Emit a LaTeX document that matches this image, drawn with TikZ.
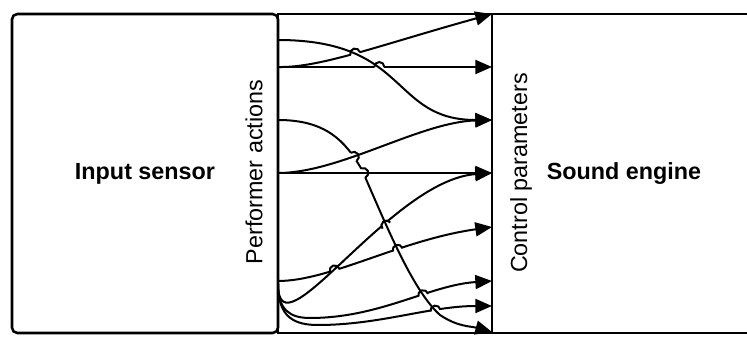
\documentclass[tikz,border=0pt]{standalone}
\usepackage{fontspec}
\setmainfont{Liberation Sans}
\usetikzlibrary{arrows.meta, positioning, intersections}
\tikzset{
  block/.style={rectangle, draw=black, line width=1.9pt, inner sep=0pt,
    minimum height=239.25pt, font=\bfseries\fontsize{17.5}{20}\selectfont},
  axislabel/.style={inner sep=0pt, rotate=90, font=\fontsize{17.5}{20}\selectfont},
  flow/.style={-{Triangle[length=12.5pt, width=10.5pt]}, line width=1.5pt, black},
  wire/.style={line width=1.5pt, black},
}
% small bridge where one connector jumps another
\newcommand{\hopover}[2]{\draw[wire] (#1) ++(#2:5) arc[start angle=#2, delta angle=180, radius=5];}

% connector routes (pixel grid, y downwards)
\def\pathA{(act1) .. controls (410,40) and (390,120) .. (par3)}
\def\pathB{(act2) .. controls (320,68) and (380,45) .. (par1)}
\def\pathC{(act2) -- (par2)}
\def\pathD{(act3) .. controls (325,120) and (345,140) .. (362,170) .. controls (385,222) and (412,290) .. (440,315) .. controls (458,327) and (470,326) .. (par8)}
\def\pathE{(act4) .. controls (340,173) and (420,122) .. (par3)}
\def\pathF{(act4) -- (par4)}
\def\pathG{(act6) .. controls (278,360) and (390,180) .. (par4)}
\def\pathH{(act5) .. controls (330,281) and (400,240) .. (par5)}
\def\pathI{(act6) .. controls (278,310) and (290,318) .. (310,318) .. controls (380,318) and (430,285) .. (par6)}
\def\pathJ{(act6) .. controls (278,318) and (295,325) .. (318,325) .. controls (380,325) and (430,306) .. (par7)}

\begin{document}
\begin{tikzpicture}[x=0.75pt, y=-0.75pt]
  \path[use as bounding box, fill=white] (0,0) rectangle (747,338);
  \clip (0,0) rectangle (747,338);

  \node[block, rounded corners=4pt, minimum width=199.5pt] (sensor) at (145,173.5) {Input sensor};
  \node[block, minimum width=160.5pt] (mapping) at (385,173.5) {};
  \node[block, minimum width=198pt] (engine) at (624,173.5) {Sound engine};
  \node[axislabel] (actions) at (254,172) {Performer actions};
  \node[axislabel] (params) at (521,173) {Control parameters};

  \foreach \n/\y in {1/40, 2/67, 3/120, 4/173, 5/281, 6/284}
    \coordinate (act\n) at (278,\y);
  \foreach \n/\y in {1/14, 2/67, 3/120, 4/173, 5/227, 6/281, 7/306, 8/332}
    \coordinate (par\n) at (492,\y);

  % crossings
  \path[name path=pA] \pathA;
  \path[name path=pB] \pathB;
  \path[name path=pC] \pathC;
  \path[name path=pD] \pathD;
  \path[name path=pE] \pathE;
  \path[name path=pF] \pathF;
  \path[name path=pG] \pathG;
  \path[name path=pH] \pathH;
  \path[name path=pI] \pathI;
  \path[name path=pJ] \pathJ;
  \path[name intersections={of=pB and pA, by=hBA}];
  \path[name intersections={of=pC and pA, by=hCA}];
  \path[name intersections={of=pD and pE, by=hDE}];
  \path[name intersections={of=pD and pF, by=hDF}];
  \path[name intersections={of=pG and pD, by=hGD}];
  \path[name intersections={of=pH and pG, by=hHG}];
  \path[name intersections={of=pH and pD, by=hHD}];
  \path[name intersections={of=pI and pD, by=hID}];
  \path[name intersections={of=pJ and pD, by=hJD}];

  % connectors that are crossed
  \draw[flow] \pathA;
  \draw[flow] \pathE;
  \draw[flow] \pathF;

  % connectors that jump
  \begin{scope}[even odd rule]
    \clip (0,0) rectangle (747,338) (hBA) circle[radius=5];
    \draw[flow] \pathB;
  \end{scope}
  \begin{scope}[even odd rule]
    \clip (0,0) rectangle (747,338) (hCA) circle[radius=5];
    \draw[flow] \pathC;
  \end{scope}
  \begin{scope}[even odd rule]
    \clip (0,0) rectangle (747,338) (hDE) circle[radius=5] (hDF) circle[radius=5];
    \draw[flow] \pathD;
  \end{scope}
  \begin{scope}[even odd rule]
    \clip (0,0) rectangle (747,338) (hGD) circle[radius=5];
    \draw[flow] \pathG;
  \end{scope}
  \begin{scope}[even odd rule]
    \clip (0,0) rectangle (747,338) (hHG) circle[radius=5] (hHD) circle[radius=5];
    \draw[flow] \pathH;
  \end{scope}
  \begin{scope}[even odd rule]
    \clip (0,0) rectangle (747,338) (hID) circle[radius=5];
    \draw[flow] \pathI;
  \end{scope}
  \begin{scope}[even odd rule]
    \clip (0,0) rectangle (747,338) (hJD) circle[radius=5];
    \draw[flow] \pathJ;
  \end{scope}

  \hopover{hBA}{164.5}
  \hopover{hCA}{180}
  \hopover{hDE}{235.5}
  \hopover{hDF}{246}
  \hopover{hGD}{141}
  \hopover{hHG}{164}
  \hopover{hHD}{162}
  \hopover{hID}{164}
  \hopover{hJD}{170}
\end{tikzpicture}
\end{document}
